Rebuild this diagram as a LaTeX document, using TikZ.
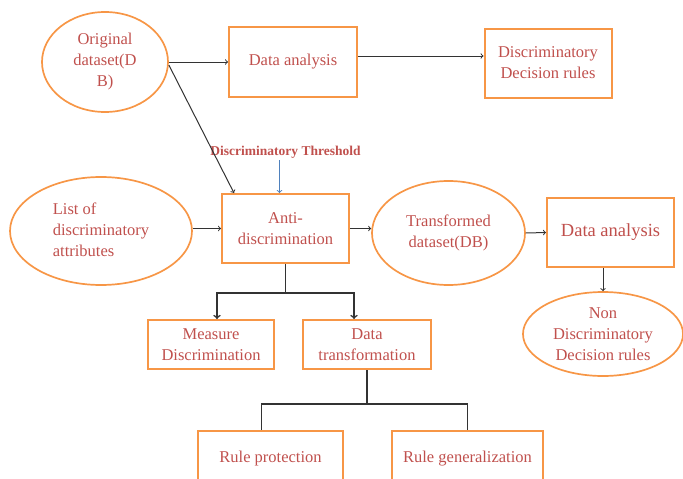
\documentclass[tikz,border=0pt]{standalone}
\usepackage{fontspec}
\setmainfont{Liberation Serif}
\usepackage{xcolor}
\usetikzlibrary{shapes.geometric, arrows, positioning}
\definecolor{boxorange}{HTML}{F79646}
\definecolor{textred}{HTML}{C0504D}
\definecolor{tipblue}{HTML}{4F81BD}
\tikzstyle{process} = [rectangle, draw=boxorange, line width=2pt, text=textred, align=center, font=\fontsize{16.5}{21}\selectfont, inner sep=2pt]
\tikzstyle{dataset} = [ellipse, draw=boxorange, line width=1.7pt, text=textred, align=center, font=\fontsize{16.5}{21}\selectfont, inner sep=0pt]
\tikzstyle{arrow} = [line width=1pt, draw=black!80, ->, >=to]
\tikzstyle{branch} = [line width=1.2pt, draw=black!80]

\begin{document}
\begin{tikzpicture}[x=1pt, y=-1pt]
    \useasboundingbox (0,0) rectangle (683,479);

    % Top row: original data and its analysis
    \node[dataset, minimum width=126pt, minimum height=100pt] (orig) at (105,62) {Original\\dataset(D\\B)};
    \node[process, minimum width=128pt, minimum height=70pt] (da1) at (293,62) {Data analysis};
    \node[process, minimum width=127pt, minimum height=69pt] (dr) at (548,63) {Discriminatory\\Decision rules};

    % Middle row
    \node[process, minimum width=127pt, minimum height=69pt] (anti) at (285.5,228.5) {Anti-\\discrimination};
    \node[text=textred, font=\fontsize{13.5}{16}\selectfont\bfseries, inner sep=1pt, above=33pt of anti] (thr) {Discriminatory Threshold};
    \node[dataset, minimum width=182pt, minimum height=108pt] (list) at (101,231) {\begin{tabular}{@{}l@{}}List of\\discriminatory\\attributes\end{tabular}};
    \node[dataset, minimum width=153pt, minimum height=104pt] (trans) at (448.5,233) {Transformed\\dataset(DB)};
    \node[process, minimum width=127pt, minimum height=69pt, font=\fontsize{18.5}{22}\selectfont] (da2) at (610.5,232.5) {Data analysis};
    \node[dataset, minimum width=160pt, minimum height=84pt] (nondr) at (603,334) {Non\\Discriminatory\\Decision rules};

    % Techniques under anti-discrimination
    \node[process, minimum width=126pt, minimum height=49pt] (meas) at (211,344.5) {Measure\\Discrimination};
    \node[process, minimum width=128pt, minimum height=49pt] (dt) at (367,344.5) {Data\\transformation};
    \node[process, minimum width=145pt, minimum height=56pt] (rp) at (270.5,459) {Rule protection};
    \node[process, minimum width=151pt, minimum height=56pt] (rg) at (467.5,459) {Rule generalization};

    % Arrows
    \draw[arrow] (orig.east) -- (da1.west);
    \draw[arrow] ([yshift=6pt]da1.east) -- ([yshift=6pt]da1.east -| dr.west);
    \draw[arrow] ([yshift=-3pt]orig.east) -- ([xshift=13pt]anti.north west);
    \coordinate (thrtip) at ([xshift=-6pt]anti.north);
    \draw[arrow, draw=tipblue] (thr.south -| thrtip) -- (thrtip);
    \draw[arrow] (anti.west -| list.east) -- (anti.west);
    \draw[arrow] (anti.east) -- (anti.east -| trans.west);
    \draw[arrow] (trans.east) -- (da2.west);
    \draw[arrow] (nondr.north |- da2.south) -- (nondr.north);

    % Tree lines
    \draw[branch, line width=1.6pt] (anti.south) -- ++(0,29) coordinate (split1);
    \draw[arrow, line width=1.6pt] (split1) -| ([xshift=6pt]meas.north);
    \draw[arrow, line width=1.6pt] (split1) -| ([xshift=-13pt]dt.north);
    \draw[branch] (dt.south) -- ++(0,34) coordinate (split2);
    \draw[branch] (split2) -| ([xshift=-9pt]rp.north);
    \draw[branch] (split2) -| (rg.north);
\end{tikzpicture}
\end{document}
